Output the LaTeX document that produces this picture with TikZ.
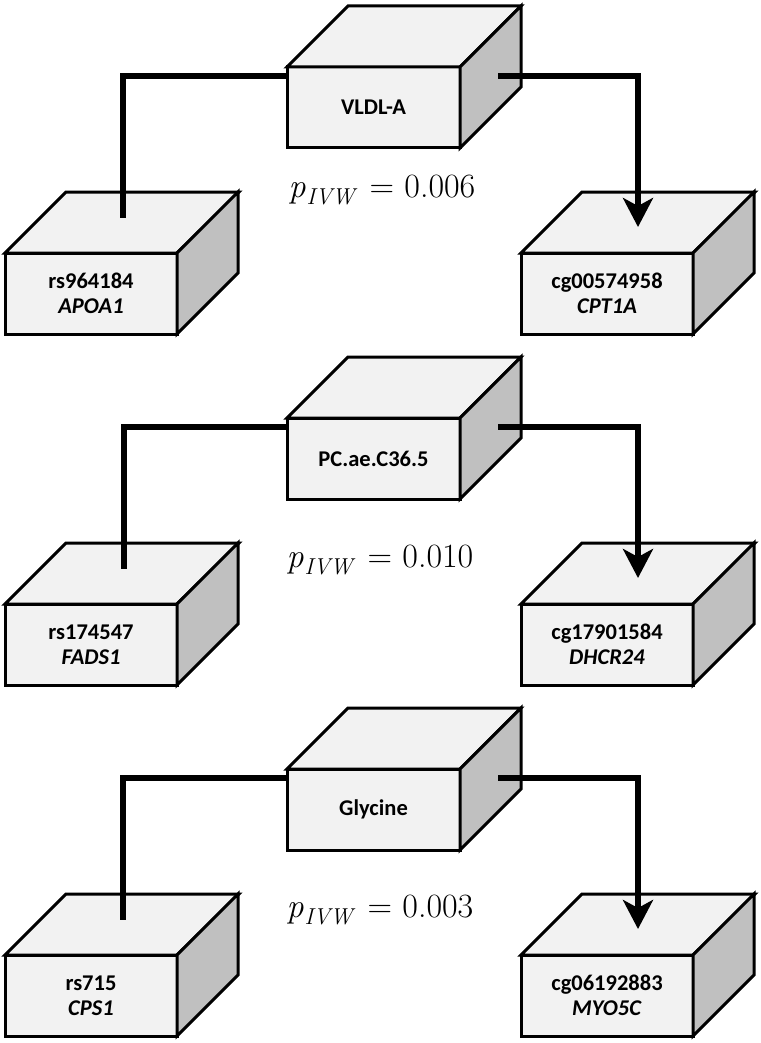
\documentclass[tikz,border=0pt]{standalone}
\usepackage{fontspec}
\setsansfont{Carlito}
\usetikzlibrary{arrows.meta,calc}
\definecolor{facefront}{HTML}{F2F2F2}
\definecolor{faceside}{HTML}{C0C0C0}
\tikzset{
  boxface/.style={draw=black, line width=3pt, fill=facefront, minimum width=173pt,
    minimum height=81pt, inner sep=0pt, outer sep=0pt, align=center, line join=miter,
    font=\sffamily\bfseries\fontsize{22.5}{25}\selectfont},
  topface/.style={draw=black, line width=3pt, fill=facefront, line join=miter},
  sideface/.style={draw=black, line width=3pt, fill=faceside, line join=miter},
  conn/.style={line width=5.5pt, line join=miter},
  arrowconn/.style={conn, -{Stealth[length=29pt,width=30pt,inset=8pt]}},
  pval/.style={font=\rmfamily\fontsize{34}{40}\selectfont, inner sep=0pt}
}
\newcommand{\boxdepth}[1]{%
  \draw[topface] (#1.north west) -- ++(61pt,61pt) -- ++(173pt,0) -- (#1.north east) -- cycle;
  \draw[sideface] (#1.north east) -- ++(61pt,61pt) -- ++(0,-81pt) -- (#1.south east) -- cycle;}
\newcommand{\pivw}[1]{\textit{p}\kern1pt\raisebox{-7pt}{\fontsize{23}{23}\selectfont\textit{IVW}}\kern2pt{} = #1}
\begin{document}
\begin{tikzpicture}[x=1pt,y=1pt]
\fill[white] (0,0) rectangle (760,-1043);
\useasboundingbox (0,0) rectangle (760,-1043);
% ---------- group 1 ----------
\node[boxface] (c1) at (373.5,-107.5) {VLDL-A};
\boxdepth{c1}
\node[boxface,minimum width=172pt] (l1) at (91,-293.5) {rs964184\\\textit{APOA1}};
\boxdepth{l1}
\node[boxface,minimum width=172pt] (r1) at (607,-293.5) {cg00574958\\\textit{CPT1A}};
\boxdepth{r1}
\node[pval] (p1) at (382,-190) {\pivw{0.006}};
\draw[conn] ([yshift=-9pt]c1.north west) -| ([xshift=32pt,yshift=35pt]l1.north);
\draw[arrowconn] ([xshift=38pt,yshift=-9pt]c1.north east) -| ([xshift=31pt,yshift=26pt]r1.north);
% ---------- group 2 ----------
\node[boxface] (c2) at (373.5,-458.5) {PC.ae.C36.5};
\boxdepth{c2}
\node[boxface,minimum width=172pt] (l2) at (91,-644.5) {rs174547\\\textit{FADS1}};
\boxdepth{l2}
\node[boxface,minimum width=172pt] (r2) at (607,-644.5) {cg17901584\\\textit{DHCR24}};
\boxdepth{r2}
\node[pval] (p2) at (380,-560) {\pivw{0.010}};
\draw[conn] ([yshift=-9pt]c2.north west) -| ([xshift=33pt,yshift=35pt]l2.north);
\draw[arrowconn] ([xshift=38pt,yshift=-9pt]c2.north east) -| ([xshift=31pt,yshift=26pt]r2.north);
% ---------- group 3 ----------
\node[boxface] (c3) at (373.5,-809.5) {Glycine};
\boxdepth{c3}
\node[boxface,minimum width=172pt] (l3) at (91,-995.5) {rs715\\\textit{CPS1}};
\boxdepth{l3}
\node[boxface,minimum width=172pt] (r3) at (607,-995.5) {cg06192883\\\textit{MYO5C}};
\boxdepth{r3}
\node[pval] (p3) at (380,-910) {\pivw{0.003}};
\draw[conn] ([yshift=-9pt]c3.north west) -| ([xshift=32pt,yshift=35pt]l3.north);
\draw[arrowconn] ([xshift=38pt,yshift=-9pt]c3.north east) -| ([xshift=31pt,yshift=26pt]r3.north);
\end{tikzpicture}
\end{document}
